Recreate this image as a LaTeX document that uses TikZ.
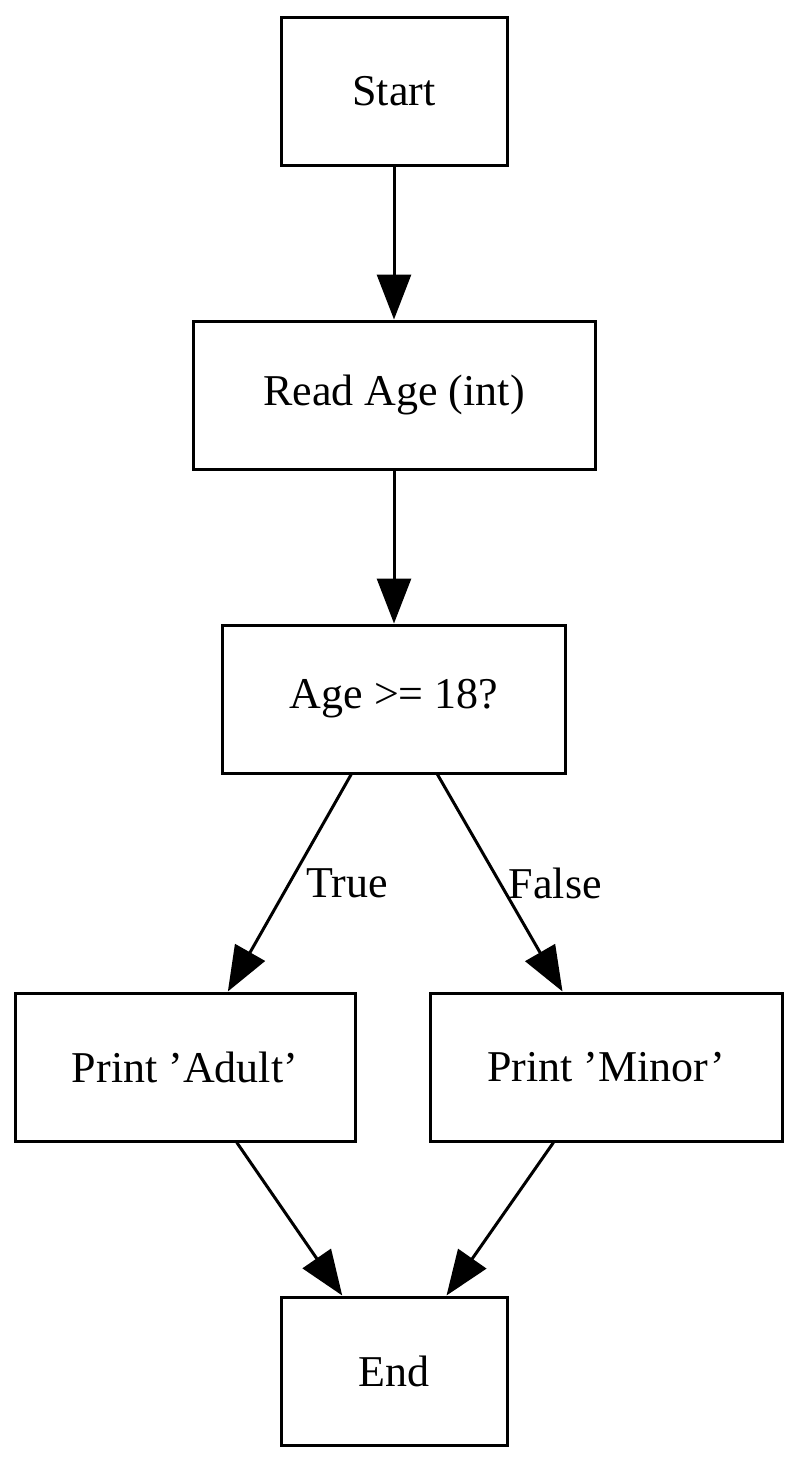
\documentclass[tikz,border=0pt]{standalone}
\usepackage{fontspec}
\setmainfont{Liberation Serif}
\usetikzlibrary{arrows.meta}
\begin{document}
\begin{tikzpicture}[x=1pt,y=-1pt,
  box/.style={draw,line width=3pt,inner sep=0pt,font=\fontsize{44}{52}\selectfont,minimum height=148pt},
  edge/.style={draw,line width=3pt,-{Triangle[length=45pt,width=34pt]}},
  lab/.style={font=\fontsize{44}{52}\selectfont}]
\useasboundingbox (0,0) rectangle (801,1465);
\node[box,minimum width=226pt] (start) at (394,91) {Start};
\node[box,minimum width=402pt] (read) at (394,395) {Read Age (int)};
\node[box,minimum width=343pt] (age) at (394,699) {Age >= 18?};
\node[box,minimum width=340pt] (adult) at (185,1067) {Print 'Adult'};
\node[box,minimum width=352pt] (minor) at (606,1067) {Print 'Minor'};
\node[box,minimum width=226pt] (end) at (394,1371) {End};
\draw[edge] (start) -- (read);
\draw[edge] (read) -- (age);
\draw[edge] (age) -- node[lab,pos=0.5,right,xshift=12pt] (t) {True} (adult);
\draw[edge] (age) -- node[lab,pos=0.5,right,xshift=4pt] (f) {False} (minor);
\draw[edge] (adult) -- (end);
\draw[edge] (minor) -- (end);
\end{tikzpicture}
\end{document}
